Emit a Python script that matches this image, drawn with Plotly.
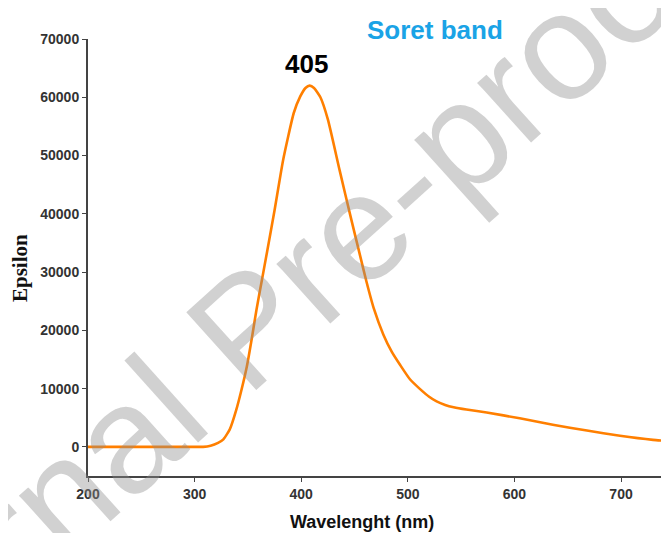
import plotly.graph_objects as go

wavelength = [200, 250, 300, 308, 315, 322, 327, 333, 339, 344, 349, 354, 358, 363, 368,
              375, 383, 393, 399, 404, 408, 412, 418, 425, 436, 447, 455, 461, 468, 477, 485,
              493, 502, 511, 520, 527, 535, 543, 555, 574, 605, 636, 668, 699, 730, 745]
epsilon = [0, 0, 0, 0, 200, 700, 1300, 3000, 6300, 9800, 13800, 19000, 23500, 28500, 33500,
           40600, 49200, 57300, 60100, 61600, 62000, 61600, 60000, 56200, 47500, 39000, 33000,
           28500, 23800, 19300, 16300, 14000, 11600, 10000, 8600, 7800, 7200, 6800, 6400, 5900,
           4900, 3800, 2800, 1900, 1200, 1000]

x_ticks = [200, 300, 400, 500, 600, 700]
y_ticks = [0, 10000, 20000, 30000, 40000, 50000, 60000, 70000]
y_tick_labels = [str(v) for v in y_ticks]

# page body adds an 8px offset; work in screen pixels and subtract it
OFF = 8
W, H = 669, 533
PL, PR, PT, PB = 88, 669, 39, 476          # plot area on screen
L, T = PL - OFF, PT - OFF
R, B = W - (PR - OFF), H - (PB - OFF)
pw, ph = W - L - R, H - T - B

def px(x):
    return (x - OFF - L) / pw

def py(y):
    return (H - B - (y - OFF)) / ph

fig = go.Figure()
fig.add_trace(go.Scatter(x=wavelength, y=epsilon, mode="lines",
                         line=dict(color="#ff7f00", width=2.6, shape="spline", smoothing=0.5),
                         hoverinfo="skip", showlegend=False))

tick_font = dict(family="Liberation Sans, Arial", size=14, color="#333333", weight="bold")
fig.update_xaxes(range=[200, 745], tickvals=x_ticks, ticks="outside", ticklen=4,
                 tickcolor="#444", showline=True, linecolor="#444", linewidth=2,
                 showgrid=False, zeroline=False, tickfont=tick_font, automargin=False)
fig.update_yaxes(range=[-5000, 70000], tickvals=y_ticks, ticktext=y_tick_labels,
                 ticks="outside", ticklen=4,
                 tickcolor="#444", showline=True, linecolor="#444", linewidth=2,
                 showgrid=False, zeroline=False, tickfont=tick_font, automargin=False)

ann = []
ann.append(dict(text="Epsilon", xref="paper", yref="paper", x=px(20), y=py(268),
                textangle=-90, showarrow=False, xanchor="center", yanchor="middle",
                font=dict(family="Liberation Serif, Times New Roman", size=21, color="#111", weight="bold")))
ann.append(dict(text="Wavelenght (nm)", xref="paper", yref="paper", x=px(362), y=py(522),
                showarrow=False, xanchor="center", yanchor="middle",
                font=dict(family="Liberation Sans, Arial", size=18, color="#111", weight="bold")))
ann.append(dict(text="405", xref="paper", yref="paper", x=px(306), y=py(64),
                showarrow=False, xanchor="center", yanchor="middle",
                font=dict(family="Liberation Sans, Arial", size=26, color="#000", weight="bold")))
ann.append(dict(text="Soret band", xref="paper", yref="paper", x=px(435), y=py(30),
                showarrow=False, xanchor="center", yanchor="middle",
                font=dict(family="Liberation Sans, Arial", size=26, color="#1aa3e6", weight="bold")))
ann.append(dict(text="Journal Pre-proof", xref="paper", yref="paper", x=px(246), y=py(328),
                showarrow=False, xanchor="center", yanchor="middle", textangle=-42,
                font=dict(family="Liberation Sans, Arial", size=152, color="rgba(140,140,140,0.4)")))

fig.update_layout(width=W, height=H, margin=dict(l=L, r=R, t=T, b=B, autoexpand=False),
                  plot_bgcolor="white", paper_bgcolor="white", annotations=ann,
                  showlegend=False)

fig.write_html("out.html")
